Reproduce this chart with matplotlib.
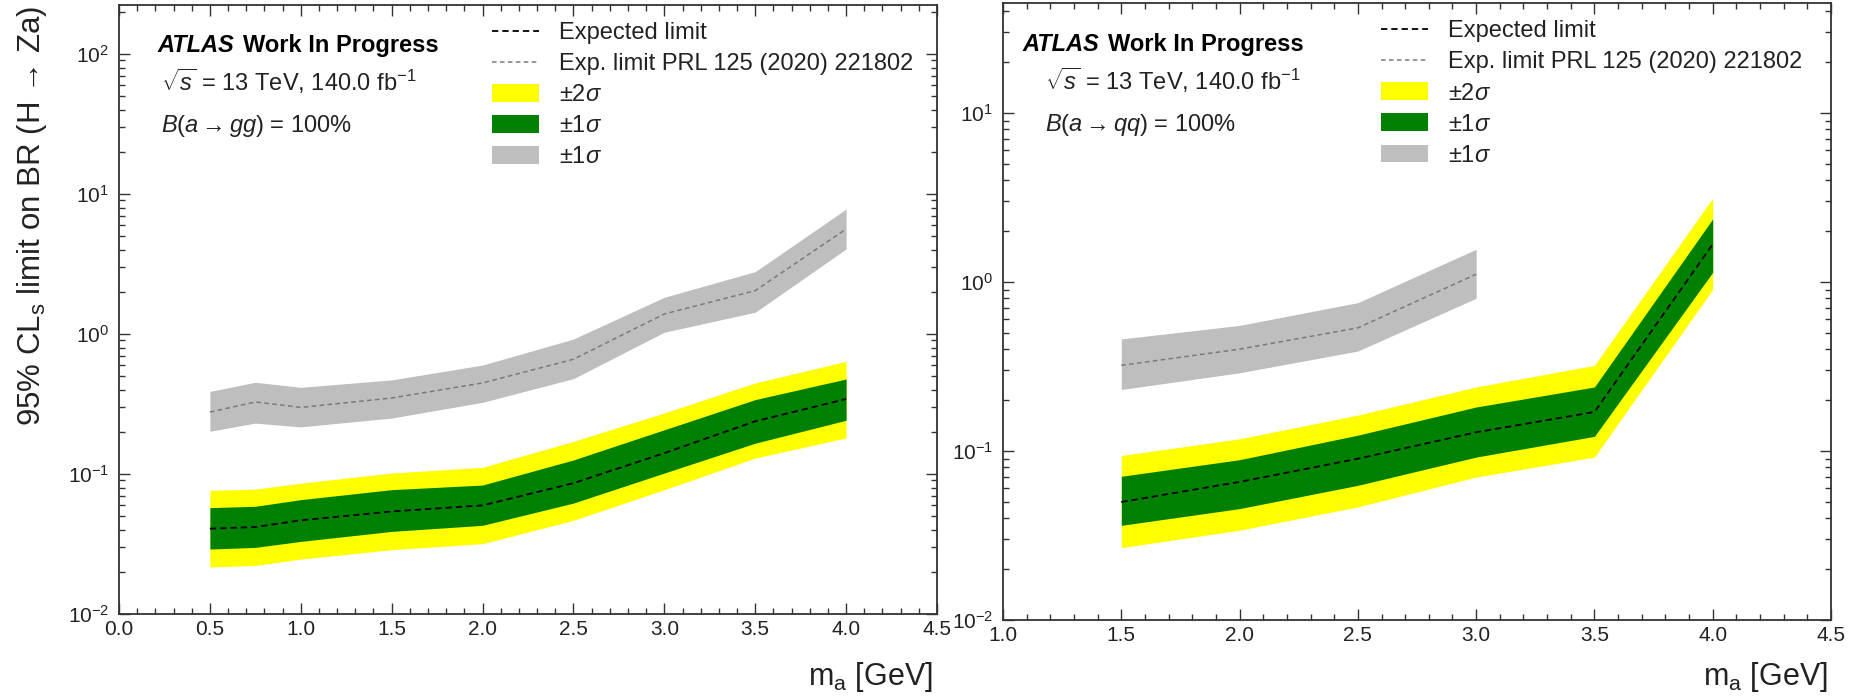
import matplotlib
matplotlib.use("Agg")
import matplotlib.pyplot as plt
from matplotlib.lines import Line2D
from matplotlib.patches import Patch
from matplotlib.ticker import LogLocator, NullFormatter, MultipleLocator, FormatStrFormatter

plt.rcParams["font.family"] = ["Liberation Sans", "DejaVu Sans"]
plt.rcParams["mathtext.fontset"] = "custom"
plt.rcParams["mathtext.rm"] = "Liberation Sans"
plt.rcParams["mathtext.it"] = "Liberation Sans:italic"
plt.rcParams["mathtext.bf"] = "Liberation Sans:bold"
plt.rcParams["mathtext.sf"] = "Liberation Sans"

# ---- a -> gg ----
mass_gg = [0.5, 0.75, 1.0, 1.5, 2.0, 2.5, 3.0, 3.5, 4.0]
exp_gg = [0.0407, 0.0418, 0.0467, 0.054, 0.0597, 0.086, 0.141, 0.238, 0.343]
p1_gg = [0.0575, 0.0588, 0.0656, 0.0773, 0.0834, 0.126, 0.207, 0.340, 0.477]
m1_gg = [0.0291, 0.0299, 0.033, 0.0389, 0.043, 0.062, 0.1016, 0.166, 0.242]
p2_gg = [0.0764, 0.078, 0.086, 0.1016, 0.1116, 0.171, 0.273, 0.447, 0.638]
m2_gg = [0.0217, 0.0222, 0.0247, 0.0288, 0.0318, 0.0467, 0.0773, 0.130, 0.181]
prl_gg = [0.277, 0.327, 0.299, 0.349, 0.447, 0.66, 1.39, 2.04, 5.62]
prl_up_gg = [0.389, 0.452, 0.416, 0.47, 0.60, 0.92, 1.83, 2.79, 7.8]
prl_dn_gg = [0.202, 0.231, 0.217, 0.251, 0.325, 0.48, 1.03, 1.43, 4.05]

# ---- a -> qq ----
mass_qq = [1.5, 2.0, 2.5, 3.0, 3.5, 4.0]
exp_qq = [0.0499, 0.0656, 0.090, 0.129, 0.170, 1.67]
p1_qq = [0.0708, 0.0888, 0.124, 0.182, 0.239, 2.36]
m1_qq = [0.0363, 0.0456, 0.0626, 0.092, 0.122, 1.14]
p2_qq = [0.094, 0.118, 0.163, 0.239, 0.321, 3.13]
m2_qq = [0.0268, 0.034, 0.0467, 0.0701, 0.092, 0.904]
mass_prl_qq = [1.5, 2.0, 2.5, 3.0]
prl_qq = [0.321, 0.40, 0.535, 1.11]
prl_up_qq = [0.46, 0.553, 0.754, 1.56]
prl_dn_qq = [0.231, 0.29, 0.39, 0.80]

legend_labels = ["Expected limit", "Exp. limit PRL 125 (2020) 221802",
                 r"$\pm 2\sigma$", r"$\pm 1\sigma$", r"$\pm 1\sigma$"]
energy_text = r"$\sqrt{s}$ = 13 TeV, 140.0 fb$^{-1}$"
ylabel_text = "95% CL$_\\mathrm{s}$ limit on BR (H \u2192 Za)"
xlabel_text = "m$_\\mathrm{a}$ [GeV]"

YELLOW = "#ffff00"
GREEN = "#008000"
GREY = "#bebebe"
SPINE = "#333333"

W, H = 1856, 700
fig = plt.figure(figsize=(W / 100, H / 100), dpi=100)


def px_axes(x0, x1, ytop, ybot):
    return fig.add_axes([x0 / W, 1 - ybot / H, (x1 - x0) / W, (ybot - ytop) / H])


ax1 = px_axes(119, 937, 5, 614)
ax2 = px_axes(1003, 1831, 3, 620)


def style(ax, xlim, ylim):
    ax.set_yscale("log")
    ax.set_xlim(*xlim)
    ax.set_ylim(*ylim)
    ax.xaxis.set_major_locator(MultipleLocator(0.5))
    ax.xaxis.set_minor_locator(MultipleLocator(0.1))
    ax.xaxis.set_major_formatter(FormatStrFormatter("%.1f"))
    ax.yaxis.set_major_locator(LogLocator(base=10, numticks=20))
    ax.yaxis.set_minor_locator(LogLocator(base=10, subs=range(2, 10), numticks=50))
    ax.yaxis.set_minor_formatter(NullFormatter())
    ax.tick_params(which="both", direction="in", top=True, right=True,
                   color=SPINE, width=1.0, labelsize=15, labelcolor="#222222")
    ax.tick_params(which="major", length=8)
    ax.tick_params(which="minor", length=4)
    ax.tick_params(axis="x", pad=4)
    ax.tick_params(axis="y", pad=7)
    for s in ax.spines.values():
        s.set_color(SPINE)
        s.set_linewidth(1.3)


def draw(ax, m, e, p1, m1, p2, m2, mp, pl, pu, pd):
    ax.fill_between(mp, pd, pu, color=GREY, lw=0, zorder=1)
    ax.plot(mp, pl, color="#7a7a7a", lw=1.1, ls=(0, (3, 2.2)), zorder=2)
    ax.fill_between(m, m2, p2, color=YELLOW, lw=0, zorder=3)
    ax.fill_between(m, m1, p1, color=GREEN, lw=0, zorder=4)
    ax.plot(m, e, color="black", lw=1.3, ls=(0, (3.5, 2.2)), zorder=5)


def legend(ax, xa, ya):
    handles = [
        Line2D([], [], color="black", lw=1.3, ls=(0, (3.5, 2.2))),
        Line2D([], [], color="#7a7a7a", lw=1.1, ls=(0, (3, 2.2))),
        Patch(facecolor=YELLOW, edgecolor="none"),
        Patch(facecolor=GREEN, edgecolor="none"),
        Patch(facecolor=GREY, edgecolor="none"),
    ]
    ax.legend(handles, legend_labels, loc="upper left", bbox_to_anchor=(xa, ya),
              frameon=False, fontsize=17, handlelength=2.0, handleheight=0.78,
              handletextpad=0.85, labelspacing=0.38, borderpad=0, borderaxespad=0,
              labelcolor="#222222")


def labels(ax, xa, ya_atlas, xb, ya_s, ya_b, br_text):
    t = ax.text(xa, ya_atlas, "ATLAS", transform=ax.transAxes, fontsize=17,
                fontweight="bold", fontstyle="italic", va="center", ha="left")
    ax.annotate("Work In Progress", xy=(1, 0), xycoords=t, xytext=(9, 0),
                textcoords="offset pixels", fontsize=17, fontweight="bold",
                va="bottom", ha="left")
    ax.text(xb, ya_s, energy_text, transform=ax.transAxes, fontsize=17,
            va="center", ha="left", color="#222222")
    ax.text(xb, ya_b, br_text, transform=ax.transAxes, fontsize=17,
            va="center", ha="left", color="#222222")


style(ax1, (0.0, 4.5), (1e-2, 10 ** 2.35))
style(ax2, (1.0, 4.5), (1e-2, 10 ** 1.65))

draw(ax1, mass_gg, exp_gg, p1_gg, m1_gg, p2_gg, m2_gg,
     mass_gg, prl_gg, prl_up_gg, prl_dn_gg)
draw(ax2, mass_qq, exp_qq, p1_qq, m1_qq, p2_qq, m2_qq,
     mass_prl_qq, prl_qq, prl_up_qq, prl_dn_qq)

legend(ax1, 0.456, 0.972)
legend(ax2, 0.4565, 0.972)

labels(ax1, 0.0465, 0.933, 0.0513, 0.874, 0.801, r"$B(a \rightarrow gg)$ = 100%")
labels(ax2, 0.023, 0.932, 0.0507, 0.874, 0.802, r"$B(a \rightarrow qq)$ = 100%")

fig.text(32 / W, 1 - 6 / H, ylabel_text, rotation=90, ha="center", va="top",
         fontsize=22.5, color="#222222")
fig.text(933 / W, 1 - 660 / H, xlabel_text, ha="right", va="top",
         fontsize=22, color="#222222")
fig.text(1828 / W, 1 - 660 / H, xlabel_text, ha="right", va="top",
         fontsize=22, color="#222222")

fig.savefig("out.png", dpi=100, facecolor="white")
